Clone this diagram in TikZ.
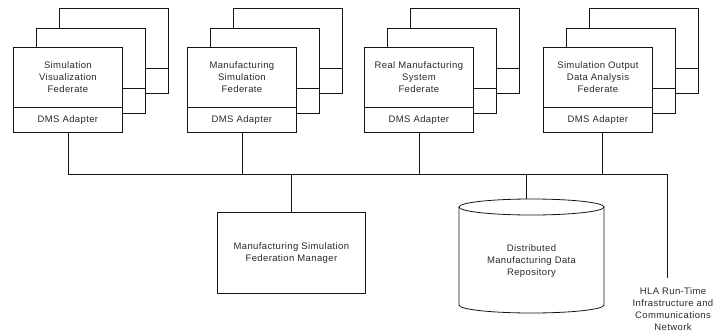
\documentclass[tikz,border=0pt]{standalone}
\usepackage{fontspec}
\setmainfont{Liberation Sans}[LetterSpace=4]
\definecolor{ln}{HTML}{151515}
\definecolor{txt}{HTML}{2A2A2A}
\begin{document}
\begin{tikzpicture}[x=1pt,y=-1pt, line width=0.8pt,
  every node/.style={font=\fontsize{9.5}{12}\selectfont, text=txt},
  part/.style={draw=ln, fill=white, inner sep=0pt, anchor=north west, minimum width=109pt, align=center},
  upper/.style={part, minimum height=60pt},
  lower/.style={part, minimum height=25pt},
  wire/.style={draw=ln}]
\useasboundingbox (0,0) rectangle (713,332);
\foreach \x/\n/\t in {13/1/{Simulation\\Visualization\\Federate},
                      187/2/{Manufacturing\\Simulation\\Federate},
                      364/3/{Real Manufacturing\\System\\Federate},
                      543/4/{Simulation Output\\Data Analysis\\Federate}}{
  \node[upper] (bu\n) at (\x+46,8) {};
  \node[lower] (bl\n) at (\x+46,68) {};
  \node[upper] (mu\n) at (\x+23,27.5) {};
  \node[lower] (ml\n) at (\x+23,87.5) {};
  \node[upper] (f\n) at (\x,47) {\t};
  \node[lower] (fa\n) at (\x,107) {DMS Adapter};
}
% bus
\coordinate (busL) at (67.5,174);
\coordinate (busR) at (667,174);
\coordinate (hlaend) at (667,278);
\draw[wire] (busL) -- (busR) -- (hlaend);
\foreach \n in {1,2,3}{
  \draw[wire] (fa\n.south) -- (fa\n.south |- busL);
}
\draw[wire] ([xshift=4.5pt]fa4.south) -- ([xshift=4.5pt]fa4.south |- busL);
% manager
\node[part, minimum width=148pt, minimum height=81pt] (mgr) at (217,212)
  {Manufacturing Simulation\\Federation Manager};
\draw[wire] (mgr.north) -- (mgr.north |- busL);
% repository cylinder
\draw[ln, fill=white] (459,207) -- (459,305)
  arc[start angle=180, end angle=360, x radius=72.5pt, y radius=8pt] -- (604,207);
\draw[ln, fill=white] (531.5,207) ellipse [x radius=72.5pt, y radius=8pt];
\coordinate (repotop) at (526,199);
\node[align=center] (repo) at (531.5,261) {Distributed\\Manufacturing Data\\Repository};
\draw[wire] (repotop |- busL) -- (repotop);
% HLA
\node[align=center, anchor=north, inner ysep=2pt] (hla) at (673,285)
  {HLA Run-Time\\Infrastructure and\\Communications\\Network};
\end{tikzpicture}
\end{document}
